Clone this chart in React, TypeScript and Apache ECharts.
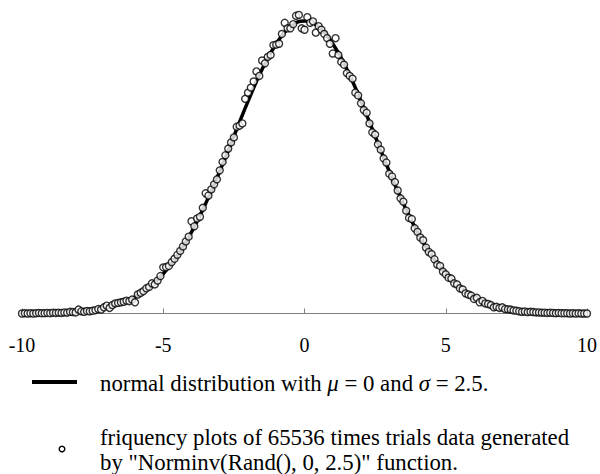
import React, { useEffect, useRef } from "react";
import * as echarts from "echarts";

// Tick labels of the x axis
const xTicks = [-10, -5, 0, 5, 10];

// Bin centres of the frequency plot (-10 .. 10, step 0.1)
const binStart = -10;
const binStep = 0.1;

// Frequency counts (65536 trials, bin 0.1)
const freqCounts = [
  0, 1, 0, 1, 0, 1, 2, 1, 1, 2,
  1, 3, 2, 3, 2, 4, 3, 6, 5, 4,
  14, 8, 6, 9, 8, 10, 12, 16, 14, 22,
  28, 20, 30, 36, 38, 40, 42, 46, 44, 50,
  40, 68, 74, 80, 90, 95, 108, 104, 118, 134,
  165, 166, 170, 184, 196, 210, 224, 240, 258, 275,
  330, 312, 340, 346, 378, 430, 422, 444, 462, 480,
  512, 542, 566, 590, 612, 630, 668, 672, 680, 768,
  790, 808, 830, 866, 850, 905, 895, 918, 925, 960,
  962, 965, 1000, 1040, 1020, 1020, 1035, 1065, 1068, 1020,
  1015,
  1060, 1040, 1045, 1005, 1028, 1015, 1000, 985, 965, 930,
  985, 925, 900, 890, 860, 850, 840, 790, 780, 752,
  728, 718, 680, 648, 640, 605, 586, 555, 540, 500,
  490, 470, 440, 412, 400, 368, 342, 338, 305, 292,
  272, 262, 236, 220, 212, 194, 175, 170, 150, 140,
  128, 125, 108, 104, 90, 86, 72, 68, 64, 52,
  56, 40, 45, 36, 34, 30, 22, 24, 20, 22,
  16, 15, 14, 11, 10, 8, 6, 7, 5, 6,
  5, 4, 4, 3, 3, 2, 3, 2, 1, 2,
  1, 1, 1, 0, 1, 0, 1, 0, 0, 0,
];

// Normal distribution (mu = 0, sigma = 2.5) expressed in the same count scale
const curveX = [
  -10, -9.5, -9, -8.5, -8, -7.5, -7, -6.5, -6, -5.5, -5, -4.5, -4, -3.5, -3, -2.5, -2, -1.5, -1, -0.5,
  0,
  0.5, 1, 1.5, 2, 2.5, 3, 3.5, 4, 4.5, 5, 5.5, 6, 6.5, 7, 7.5, 8, 8.5, 9, 9.5, 10,
];
const curveY = [
  0.35, 0.77, 1.6, 3.2, 6, 12, 21, 36, 59, 93, 142, 207, 291, 393, 509, 634, 759, 874, 965, 1025,
  1046,
  1025, 965, 874, 759, 634, 509, 393, 291, 207, 142, 93, 59, 36, 21, 12, 6, 3.2, 1.6, 0.77, 0.35,
];

const legendLine = "normal distribution with {i|μ} = 0 and {i|σ} = 2.5.";
const legendDots1 = "friquency plots of 65536 times trials data generated";
const legendDots2 = 'by "Norminv(Rand(), 0, 2.5)" function.';

const FONT = "'Liberation Serif', 'Times New Roman', serif";
const LEGEND_SIZE = 22.8;

export default function App() {
  const ref = useRef<HTMLDivElement>(null);

  useEffect(() => {
    if (!ref.current) return;
    const chart = echarts.init(ref.current, undefined, { renderer: "svg" });

    const scatterData = freqCounts.map((c, i) => [
      Math.round((binStart + i * binStep) * 10) / 10,
      c,
    ]);
    const lineData = curveX.map((x, i) => [x, curveY[i]]);

    chart.setOption({
      animation: false,
      backgroundColor: "#ffffff",
      grid: { left: 22, right: 11, top: 6, bottom: 160.5, containLabel: false },
      xAxis: {
        type: "value",
        min: -10,
        max: 10,
        interval: 5,
        splitLine: { show: false },
        axisLine: { show: true, onZero: false, lineStyle: { color: "#808080", width: 1 } },
        axisTick: { show: true, inside: true, length: 5, lineStyle: { color: "#808080" } },
        axisLabel: {
          show: true,
          margin: 21,
          fontSize: 20,
          fontFamily: FONT,
          color: "#000",
          formatter: (v: number) => (xTicks.includes(v) ? String(v) : ""),
        },
      },
      yAxis: {
        type: "value",
        min: 0,
        max: 1100,
        show: false,
        splitLine: { show: false },
      },
      series: [
        {
          type: "line",
          data: lineData,
          smooth: 0.5,
          showSymbol: false,
          symbol: "none",
          lineStyle: { color: "#000", width: 3.5 },
          z: 2,
        },
        {
          type: "scatter",
          data: scatterData,
          symbol: "circle",
          symbolSize: 7,
          itemStyle: { color: "#ffffff", borderColor: "#000", borderWidth: 1.4 },
          z: 3,
        },
      ],
      graphic: [
        {
          type: "line",
          shape: { x1: 32, y1: 382, x2: 77, y2: 382 },
          style: { stroke: "#000", lineWidth: 4 },
        },
        {
          type: "text",
          x: 100,
          y: 383,
          style: {
            text: legendLine,
            fontSize: LEGEND_SIZE,
            fontFamily: FONT,
            fill: "#000",
            verticalAlign: "middle",
            rich: {
              i: { fontStyle: "italic", fontSize: LEGEND_SIZE, fontFamily: FONT, fill: "#000" },
            },
          },
        },
        {
          type: "circle",
          shape: { cx: 62, cy: 449, r: 2.8 },
          style: { fill: "#fff", stroke: "#000", lineWidth: 1.4 },
        },
        {
          type: "text",
          x: 100,
          y: 437,
          style: {
            text: legendDots1,
            fontSize: LEGEND_SIZE,
            fontFamily: FONT,
            fill: "#000",
            verticalAlign: "middle",
          },
        },
        {
          type: "text",
          x: 100,
          y: 462,
          style: {
            text: legendDots2,
            fontSize: LEGEND_SIZE,
            fontFamily: FONT,
            fill: "#000",
            verticalAlign: "middle",
          },
        },
      ],
    });

    return () => chart.dispose();
  }, []);

  return (
    <div
      ref={ref}
      style={{ position: "fixed", left: 0, top: 0, width: 600, height: 474, background: "#fff" }}
    />
  );
}
